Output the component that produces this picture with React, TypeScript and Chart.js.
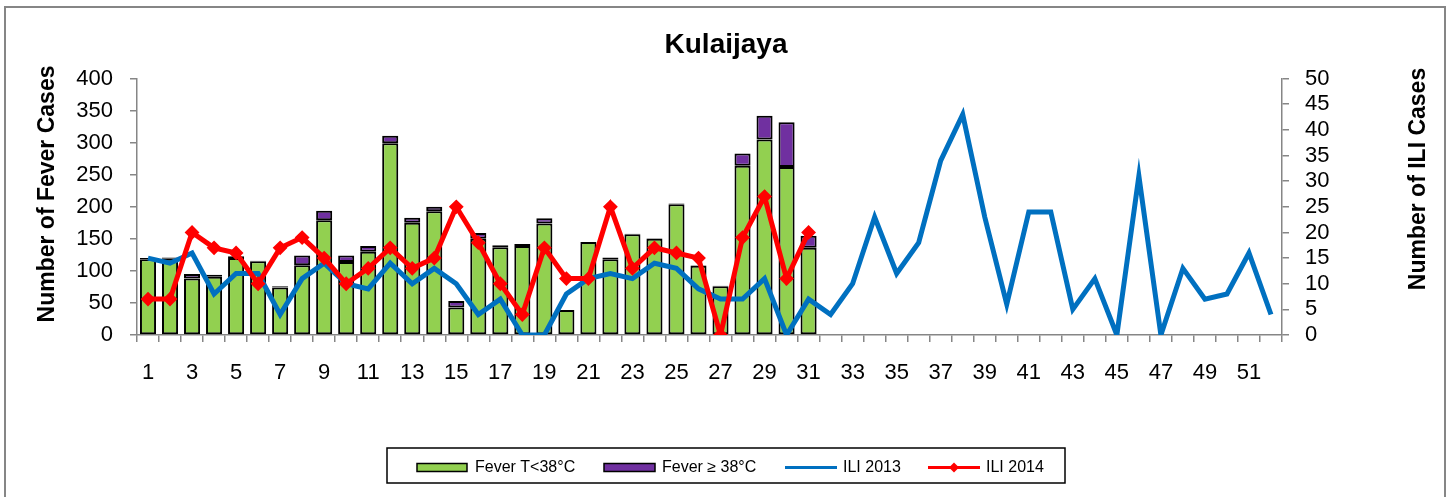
import React, { useEffect, useRef } from 'react';
import { Chart, registerables } from 'chart.js';

Chart.register(...registerables);

const weeks = [
  '1', '2', '3', '4', '5', '6', '7', '8', '9', '10', '11', '12', '13',
  '14', '15', '16', '17', '18', '19', '20', '21', '22', '23', '24', '25', '26',
  '27', '28', '29', '30', '31', '32', '33', '34', '35', '36', '37', '38', '39',
  '40', '41', '42', '43', '44', '45', '46', '47', '48', '49', '50', '51', '52',
];

const feverBelow38 = [118, 119, 88, 91, 120, 115, 74, 109, 179, 114, 130, 299, 175, 193, 43, 150, 137, 139, 174, 39, 145, 118, 157, 150, 204, 108, 76, 264, 305, 262, 136];
const feverAbove38 = [2, 2, 7, 3, 3, 1, 2, 15, 15, 10, 9, 12, 8, 7, 10, 9, 3, 3, 8, 0, 0, 3, 1, 1, 1, 1, 1, 19, 37, 70, 19];
const ili2013 = [15, 14, 16, 8, 12, 12, 4, 11, 14, 10, 9, 14, 10, 13, 10, 4, 7, 0, 0, 8, 11, 12, 11, 14, 13, 9, 7, 7, 11, 0, 7, 4, 10, 23, 12, 18, 34, 43, 23, 6, 24, 24, 5, 11, 0, 31, 0, 13, 7, 8, 16, 4];
const ili2014 = [7, 7, 20, 17, 16, 10, 17, 19, 15, 10, 13, 17, 13, 15, 25, 18, 10, 4, 17, 11, 11, 25, 13, 17, 16, 15, 0, 19, 27, 11, 20];

const leftTicks = [0, 50, 100, 150, 200, 250, 300, 350, 400];
const rightTicks = [0, 5, 10, 15, 20, 25, 30, 35, 40, 45, 50];

const chartTitle = 'Kulaijaya';
const leftAxisTitle = 'Number of Fever Cases';
const rightAxisTitle = 'Number of ILI Cases';
const seriesNames = ['Fever T<38°C', 'Fever ≥ 38°C', 'ILI 2013', 'ILI 2014'];

const GREEN = '#92D050';
const PURPLE = '#7030A0';
const BLUE = '#0070C0';
const RED = '#FF0000';
const AXIS = '#868686';
const FONT = "'Liberation Sans', Arial, sans-serif";

const W = 1452;
const H = 497;

const decorPlugin = {
  id: 'decor',
  afterDraw(chart: any) {
    const ctx = chart.ctx as CanvasRenderingContext2D;
    ctx.save();
    // outer frame
    ctx.strokeStyle = AXIS;
    ctx.lineWidth = 2;
    ctx.strokeRect(5, 7, 1440, 500);

    // axis titles
    ctx.fillStyle = '#000';
    ctx.font = `bold 23px ${FONT}`;
    ctx.textAlign = 'center';
    ctx.textBaseline = 'middle';
    ctx.save();
    ctx.translate(48, 194);
    ctx.rotate(-Math.PI / 2);
    ctx.fillText(leftAxisTitle, 0, 0);
    ctx.restore();
    ctx.save();
    ctx.translate(1419, 179);
    ctx.rotate(-Math.PI / 2);
    ctx.fillText(rightAxisTitle, 0, 0);
    ctx.restore();

    // legend
    const cy = 467.5;
    ctx.strokeStyle = '#000';
    ctx.lineWidth = 1.5;
    ctx.strokeRect(387, 448, 678, 35);
    ctx.font = `16px ${FONT}`;
    ctx.textAlign = 'left';
    ctx.textBaseline = 'middle';

    ctx.fillStyle = GREEN;
    ctx.fillRect(417, cy - 4, 50, 8);
    ctx.strokeRect(417, cy - 4, 50, 8);
    ctx.fillStyle = '#000';
    ctx.fillText(seriesNames[0], 475, cy);

    ctx.fillStyle = PURPLE;
    ctx.fillRect(604, cy - 4, 51, 8);
    ctx.strokeRect(604, cy - 4, 51, 8);
    ctx.fillStyle = '#000';
    ctx.fillText(seriesNames[1], 662, cy);

    ctx.strokeStyle = BLUE;
    ctx.lineWidth = 3;
    ctx.beginPath();
    ctx.moveTo(785, cy);
    ctx.lineTo(837, cy);
    ctx.stroke();
    ctx.fillStyle = '#000';
    ctx.fillText(seriesNames[2], 843, cy);

    ctx.strokeStyle = RED;
    ctx.beginPath();
    ctx.moveTo(928, cy);
    ctx.lineTo(980, cy);
    ctx.stroke();
    ctx.fillStyle = RED;
    ctx.beginPath();
    ctx.moveTo(954, cy - 5);
    ctx.lineTo(959, cy);
    ctx.lineTo(954, cy + 5);
    ctx.lineTo(949, cy);
    ctx.closePath();
    ctx.fill();
    ctx.fillStyle = '#000';
    ctx.fillText(seriesNames[3], 986, cy);
    ctx.restore();
  },
};

export default function App() {
  const ref = useRef<HTMLCanvasElement | null>(null);

  useEffect(() => {
    if (!ref.current) return;
    const tickFont = { family: FONT, size: 22 };
    const chart = new Chart(ref.current, {
      type: 'bar',
      data: {
        labels: weeks,
        datasets: [
          {
            type: 'bar',
            label: seriesNames[0],
            data: feverBelow38,
            backgroundColor: GREEN,
            borderColor: '#000',
            borderWidth: 2,
            borderSkipped: false,
            barPercentage: 0.73,
            categoryPercentage: 1,
            yAxisID: 'y',
            stack: 'fever',
            order: 3,
          },
          {
            type: 'bar',
            label: seriesNames[1],
            data: feverAbove38,
            backgroundColor: PURPLE,
            borderColor: '#000',
            borderWidth: 2,
            borderSkipped: false,
            barPercentage: 0.73,
            categoryPercentage: 1,
            yAxisID: 'y',
            stack: 'fever',
            order: 3,
          },
          {
            type: 'line',
            label: seriesNames[2],
            data: ili2013,
            borderColor: BLUE,
            backgroundColor: BLUE,
            borderWidth: 5,
            pointRadius: 0,
            tension: 0,
            yAxisID: 'y1',
            order: 2,
          },
          {
            type: 'line',
            label: seriesNames[3],
            data: ili2014,
            borderColor: RED,
            backgroundColor: RED,
            borderWidth: 5,
            pointStyle: 'rectRot',
            pointRadius: 6,
            pointBorderWidth: 2,
            pointBackgroundColor: RED,
            pointBorderColor: RED,
            tension: 0,
            yAxisID: 'y1',
            order: 1,
          },
        ],
      } as any,
      options: {
        responsive: false,
        animation: false,
        devicePixelRatio: 1,
        layout: { padding: 0 },
        plugins: {
          legend: { display: false },
          tooltip: { enabled: false },
          title: {
            display: true,
            text: chartTitle,
            color: '#000',
            font: { family: FONT, size: 28, weight: 'bold', lineHeight: 1.2 },
            padding: { top: 28, bottom: 17 },
          },
        },
        scales: {
          x: {
            type: 'category',
            stacked: true,
            offset: true,
            grid: {
              display: true,
              drawOnChartArea: false,
              drawTicks: true,
              tickLength: 7,
              color: AXIS,
              lineWidth: 1.5,
              offset: true,
            },
            border: { display: true, color: AXIS, width: 1.5 },
            ticks: {
              autoSkip: false,
              maxRotation: 0,
              minRotation: 0,
              color: '#000',
              font: tickFont,
              padding: 18,
              callback: (_v: any, i: number) => (i % 2 === 0 ? weeks[i] : ''),
            },
            afterFit: (s: any) => {
              s.height = H - 335;
            },
          },
          y: {
            position: 'left',
            stacked: true,
            min: 0,
            max: leftTicks[leftTicks.length - 1],
            afterBuildTicks: (s: any) => {
              s.ticks = leftTicks.map((v) => ({ value: v }));
            },
            grid: {
              drawOnChartArea: false,
              drawTicks: true,
              tickLength: 7,
              color: AXIS,
              lineWidth: 1.5,
            },
            border: { display: true, color: AXIS, width: 1.5 },
            ticks: { color: '#000', font: tickFont, padding: 17, autoSkip: false },
            afterFit: (s: any) => {
              s.width = 137;
            },
          },
          y1: {
            position: 'right',
            stacked: false,
            min: 0,
            max: rightTicks[rightTicks.length - 1],
            afterBuildTicks: (s: any) => {
              s.ticks = rightTicks.map((v) => ({ value: v }));
            },
            grid: {
              drawOnChartArea: false,
              drawTicks: true,
              tickLength: 7,
              color: AXIS,
              lineWidth: 1.5,
            },
            border: { display: true, color: AXIS, width: 1.5 },
            ticks: { color: '#000', font: tickFont, padding: 16, autoSkip: false },
            afterFit: (s: any) => {
              s.width = W - 1282;
            },
          },
        },
      } as any,
      plugins: [decorPlugin],
    });
    return () => chart.destroy();
  }, []);

  return (
    <div style={{ position: 'absolute', left: 0, top: 0, width: W, height: H, background: '#fff' }}>
      <canvas ref={ref} width={W} height={H} style={{ display: 'block', width: W, height: H }} />
    </div>
  );
}
